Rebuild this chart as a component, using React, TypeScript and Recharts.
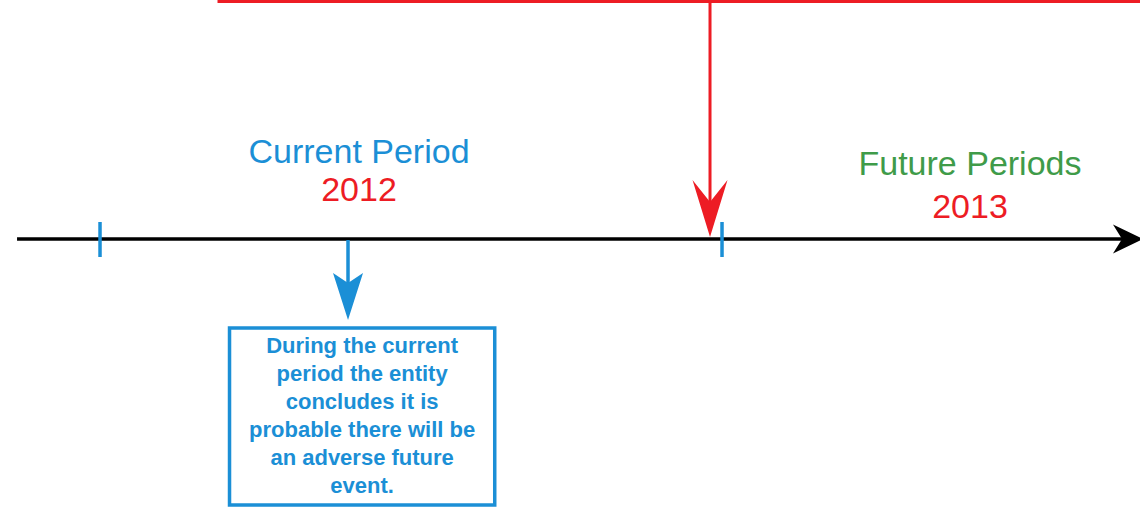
import {
  ComposedChart,
  Line,
  ReferenceArea,
  ReferenceDot,
  ReferenceLine,
  XAxis,
  YAxis,
} from "recharts";

const BLUE = "#1b8fd6";
const RED = "#ed1c24";
const GREEN = "#3f9b49";
const FONT = '"Liberation Sans", Arial, Helvetica, sans-serif';

// x is time in years (blue marks at the period boundaries),
// y is height above the timeline in chart units
const xDomain = [2011.8392, 2013.672];
const yDomain = [-268, 239];

const timelineX = [2011.8666, 2013.6768];
const periodStarts = [2012, 2013];
const tickY = [17, -18];

const periodNames = ["Current Period", "Future Periods"];
const periodYears = ["2012", "2013"];
const periodNameColors = [BLUE, GREEN];
const periodLabelX = [2012.4164, 2013.3987];
const periodNameY = [76, 64];
const periodYearY = [38, 21];

// red event box (mostly above the picture) and its arrow onto the timeline
const eventBoxX = [2012.1913, 2013.8];
const eventBoxY = [237.5, 270];
const eventArrowX = 2012.9807;
const eventArrowY = [237.5, 2];

// blue note hanging below the current period
const noteArrowX = 2012.3987;
const noteArrowY = [-1, -81];
const noteBoxX = [2012.2082, 2012.6346];
const noteBoxY = [-89, -266];
const noteLines = [
  "During the current",
  "period the entity",
  "concludes it is",
  "probable there will be",
  "an adverse future",
  "event.",
];

const timelineData = timelineX.map((x) => ({ x, y: 0 }));

type ArrowProps = {
  x1?: number;
  y1?: number;
  x2?: number;
  y2?: number;
  color: string;
  width: number;
  head: number;
  half: number;
  notch: number;
};

function Arrow({ x1 = 0, y1 = 0, x2 = 0, y2 = 0, color, width, head, half, notch }: ArrowProps) {
  const dx = x2 - x1;
  const dy = y2 - y1;
  const len = Math.hypot(dx, dy) || 1;
  const ux = dx / len;
  const uy = dy / len;
  const nx = -uy;
  const ny = ux;
  const bx = x2 - ux * head;
  const by = y2 - uy * head;
  const mx = x2 - ux * (head - notch);
  const my = y2 - uy * (head - notch);
  return (
    <g>
      <line x1={x1} y1={y1} x2={mx} y2={my} stroke={color} strokeWidth={width} />
      <polygon
        points={`${x2},${y2} ${bx + nx * half},${by + ny * half} ${mx},${my} ${bx - nx * half},${by - ny * half}`}
        fill={color}
      />
    </g>
  );
}

export default function App() {
  return (
    <div style={{ width: 1140, height: 507, background: "#fff" }}>
      <style>{"body{margin:0}"}</style>
      <ComposedChart
        width={1140}
        height={507}
        data={timelineData}
        margin={{ top: 0, right: 0, bottom: 0, left: 0 }}
      >
        <XAxis dataKey="x" type="number" domain={xDomain} allowDataOverflow hide />
        <YAxis type="number" domain={yDomain} allowDataOverflow hide />

        {/* red box edge, only its bottom-left corner is in view */}
        <ReferenceArea
          x1={eventBoxX[0]}
          x2={eventBoxX[1]}
          y1={eventBoxY[0]}
          y2={eventBoxY[1]}
          ifOverflow="visible"
          shape={(p: any) => (
            <rect
              x={p.x}
              y={p.y}
              width={p.width}
              height={p.height}
              fill="none"
              stroke={RED}
              strokeWidth={3}
            />
          )}
        />

        {/* timeline: the series carries the data, the arrow draws it */}
        <Line
          dataKey="y"
          stroke="none"
          dot={false}
          activeDot={false}
          isAnimationActive={false}
        />
        <ReferenceLine
          segment={[
            { x: timelineX[0], y: 0 },
            { x: timelineX[1], y: 0 },
          ]}
          ifOverflow="visible"
          shape={(p: any) => (
            <Arrow {...p} color="#000" width={3.5} head={30} half={14.5} notch={9} />
          )}
        />

        {periodStarts.map((yr) => (
          <ReferenceLine
            key={yr}
            segment={[
              { x: yr, y: tickY[0] },
              { x: yr, y: tickY[1] },
            ]}
            ifOverflow="visible"
            stroke={BLUE}
            strokeWidth={3.5}
          />
        ))}

        {/* event arrow */}
        <ReferenceLine
          segment={[
            { x: eventArrowX, y: eventArrowY[0] },
            { x: eventArrowX, y: eventArrowY[1] },
          ]}
          ifOverflow="visible"
          shape={(p: any) => (
            <Arrow {...p} color={RED} width={3} head={57} half={17.5} notch={22} />
          )}
        />

        {/* period labels */}
        {periodNames.map((name, i) => (
          <ReferenceDot
            key={name}
            x={periodLabelX[i]}
            y={periodNameY[i]}
            ifOverflow="visible"
            shape={(p: any) => (
              <text
                x={p.cx}
                y={p.cy}
                textAnchor="middle"
                fontFamily={FONT}
                fontSize={34}
                fill={periodNameColors[i]}
              >
                {name}
              </text>
            )}
          />
        ))}
        {periodYears.map((yr, i) => (
          <ReferenceDot
            key={yr}
            x={periodLabelX[i]}
            y={periodYearY[i]}
            ifOverflow="visible"
            shape={(p: any) => (
              <text
                x={p.cx}
                y={p.cy}
                textAnchor="middle"
                fontFamily={FONT}
                fontSize={34}
                fill={RED}
              >
                {yr}
              </text>
            )}
          />
        ))}

        {/* note arrow and box */}
        <ReferenceLine
          segment={[
            { x: noteArrowX, y: noteArrowY[0] },
            { x: noteArrowX, y: noteArrowY[1] },
          ]}
          ifOverflow="visible"
          shape={(p: any) => (
            <Arrow {...p} color={BLUE} width={3.5} head={47} half={15} notch={10} />
          )}
        />
        <ReferenceArea
          x1={noteBoxX[0]}
          x2={noteBoxX[1]}
          y1={noteBoxY[0]}
          y2={noteBoxY[1]}
          ifOverflow="visible"
          shape={(p: any) => (
            <g>
              <rect
                x={p.x}
                y={p.y}
                width={p.width}
                height={p.height}
                fill="#fff"
                stroke={BLUE}
                strokeWidth={3.5}
              />
              <text
                textAnchor="middle"
                fontFamily={FONT}
                fontSize={22}
                fontWeight="bold"
                fill={BLUE}
              >
                {noteLines.map((line, i) => (
                  <tspan key={i} x={p.x + p.width / 2} y={p.y + 25 + i * 28}>
                    {line}
                  </tspan>
                ))}
              </text>
            </g>
          )}
        />
      </ComposedChart>
    </div>
  );
}
